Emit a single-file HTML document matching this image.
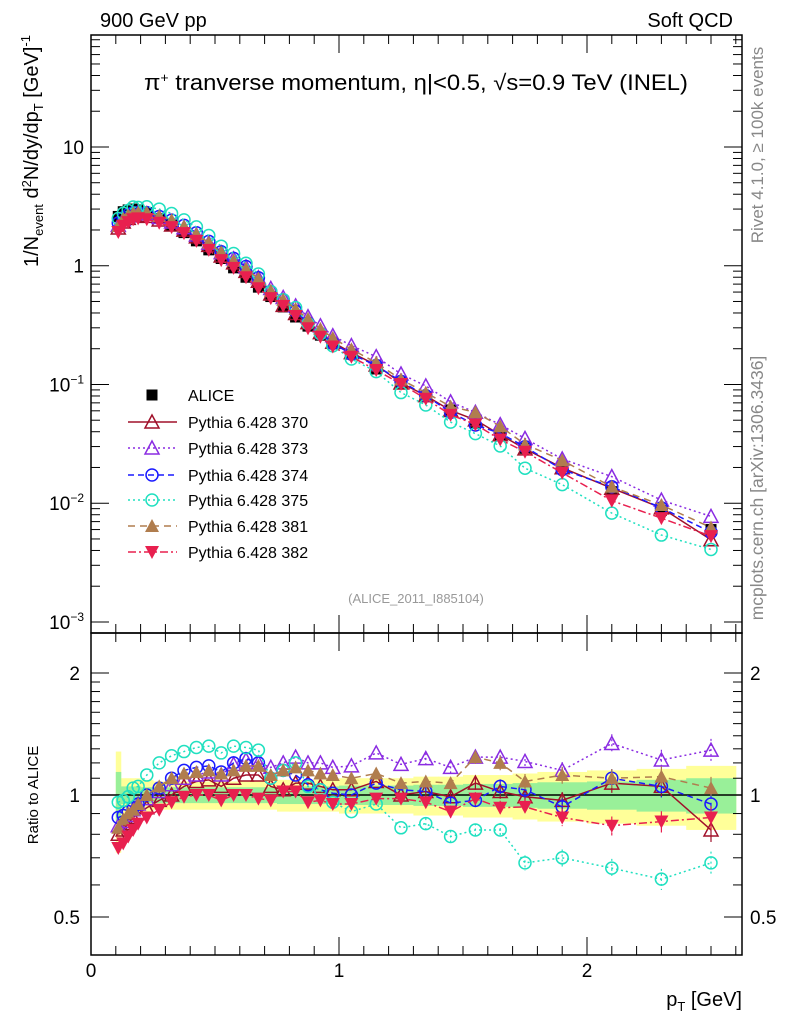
<!DOCTYPE html>
<html><head><meta charset="utf-8"><style>
body{margin:0;background:#fff;}
svg{display:block;font-family:"Liberation Sans",sans-serif;}
</style></head><body>
<svg id="c" width="786" height="1024" viewBox="0 0 786 1024"></svg>
<script>
const pT=[0.11,0.13,0.15,0.17,0.19,0.225,0.275,0.325,0.375,0.425,0.475,0.525,0.575,0.625,0.675,0.725,0.775,0.825,0.875,0.925,0.975,1.05,1.15,1.25,1.35,1.45,1.55,1.65,1.75,1.9,2.1,2.3,2.5];
const binLo=[0.1,0.12,0.14,0.16,0.18,0.2,0.25,0.3,0.35,0.4,0.45,0.5,0.55,0.6,0.65,0.7,0.75,0.8,0.85,0.9,0.95,1.0,1.1,1.2,1.3,1.4,1.5,1.6,1.7,1.8,2.0,2.2,2.4];
const binHi=[0.12,0.14,0.16,0.18,0.2,0.25,0.3,0.35,0.4,0.45,0.5,0.55,0.6,0.65,0.7,0.75,0.8,0.85,0.9,0.95,1.0,1.1,1.2,1.3,1.4,1.5,1.6,1.7,1.8,2.0,2.2,2.4,2.6];
const alice=[2.6,2.85,2.95,3.0,2.95,2.8,2.5,2.2,1.9,1.62,1.36,1.15,0.96,0.8,0.66,0.55,0.45,0.37,0.31,0.26,0.22,0.18,0.135,0.103,0.079,0.061,0.047,0.037,0.029,0.0205,0.0125,0.0087,0.0060];
const bandYellow=[0.28,0.1,0.1,0.1,0.1,0.09,0.08,0.08,0.08,0.08,0.08,0.08,0.08,0.08,0.08,0.08,0.09,0.09,0.09,0.09,0.09,0.1,0.1,0.1,0.11,0.11,0.12,0.12,0.13,0.14,0.15,0.16,0.18];
const bandGreen=[0.14,0.05,0.05,0.05,0.05,0.045,0.045,0.045,0.045,0.045,0.045,0.045,0.045,0.045,0.045,0.045,0.05,0.05,0.05,0.05,0.05,0.055,0.055,0.055,0.06,0.06,0.065,0.065,0.07,0.075,0.08,0.09,0.1];
const r370=[0.8,0.82,0.85,0.88,0.9,0.93,0.97,1.0,1.05,1.08,1.09,1.05,1.1,1.12,1.12,1.05,1.03,1.07,1.07,1.05,1.03,1.03,1.08,1.0,1.02,0.99,1.07,1.02,0.99,0.97,1.07,1.05,0.82];
const r373=[0.84,0.86,0.89,0.92,0.95,0.98,1.02,1.06,1.1,1.12,1.14,1.12,1.19,1.22,1.2,1.17,1.2,1.24,1.2,1.2,1.17,1.18,1.27,1.19,1.23,1.17,1.24,1.24,1.21,1.15,1.34,1.22,1.29];
const r374=[0.88,0.89,0.91,0.93,0.95,1.0,1.04,1.1,1.15,1.17,1.18,1.14,1.2,1.23,1.2,1.1,1.15,1.12,1.06,1.03,1.01,1.0,1.07,1.03,1.02,0.955,0.97,1.05,1.03,0.935,1.1,1.05,0.95];
const r375=[0.96,0.97,0.99,1.04,1.05,1.12,1.2,1.25,1.28,1.31,1.32,1.27,1.32,1.31,1.29,1.1,1.15,1.2,1.05,1.03,0.96,0.91,0.95,0.83,0.85,0.79,0.82,0.82,0.68,0.7,0.66,0.62,0.68];
const r381=[0.83,0.87,0.9,0.92,0.95,1.0,1.05,1.1,1.13,1.14,1.15,1.13,1.15,1.18,1.18,1.12,1.15,1.17,1.15,1.13,1.12,1.1,1.13,1.07,1.08,1.07,1.24,1.2,1.08,1.12,1.1,1.11,1.04];
const r382=[0.74,0.76,0.79,0.82,0.85,0.88,0.92,0.96,0.99,1.0,1.0,0.97,1.0,1.0,0.98,0.97,1.02,1.02,0.96,0.97,0.95,0.95,0.98,0.98,0.96,0.91,0.98,0.93,0.935,0.88,0.84,0.86,0.88];
const xTicks=[0,1,2];
const yTickPow=[-3,-2,-1,0,1];
const ratioTicks=[0.5,1,2];

const NS="http://www.w3.org/2000/svg";
const svg=document.getElementById('c');
const X0=91,X1=742,MT=35,MB=633,RB=955;
const sx=v=>X0+v*248;
const LTOP=1.943,LBOT=-3.093;
const sy=v=>MT+(LTOP-Math.log10(v))*(MB-MT)/(LTOP-LBOT);
const RTOP=Math.log10(2.51),RBOT=Math.log10(0.403);
const ry=v=>MB+(RTOP-Math.log10(v))*(RB-MB)/(RTOP-RBOT);
function el(t,a,p){const e=document.createElementNS(NS,t);for(const k in a)e.setAttribute(k,a[k]);(p||svg).appendChild(e);return e;}
function txt(x,y,s,a,p){const e=el('text',Object.assign({x:x,y:y},a||{}),p);e.innerHTML=s;return e;}

const gb=el('g',{});


for(let i=0;i<pT.length;i++){
  const r=el('rect',{x:sx(binLo[i]),width:sx(binHi[i])-sx(binLo[i])+0.5,y:ry(1+bandYellow[i]),height:ry(1-bandYellow[i])-ry(1+bandYellow[i]),fill:'#ffff99'},gb);
  
  
}
for(let i=0;i<pT.length;i++){
  const r=el('rect',{x:sx(binLo[i]),width:sx(binHi[i])-sx(binLo[i])+0.5,y:ry(1+bandGreen[i]),height:ry(1-bandGreen[i])-ry(1+bandGreen[i]),fill:'#99f099'},gb);
  
  
}
const one=el('line',{x1:X0,x2:X1,y1:ry(1),y2:ry(1),stroke:'#000','stroke-width':1.5});



const f1=el('rect',{x:X0,y:MT,width:X1-X0,height:MB-MT,fill:'none',stroke:'#000','stroke-width':1.5});


const f2=el('rect',{x:X0,y:MB,width:X1-X0,height:RB-MB,fill:'none',stroke:'#000','stroke-width':1.5});



const tg=el('g',{stroke:'#000','stroke-width':1});


for(let k=0;k<=26;k++){
  const x=sx(k/10), maj=(k%10===0), L=maj?18:9;
  [[MT,1],[MB,-1],[MB,1],[RB,-1]].forEach(([y,d])=>el('line',{x1:x,x2:x,y1:y,y2:y+d*L},tg));
}
for(let p=-3;p<=1;p++){
  for(let m=1;m<=9;m++){
    const v=m*Math.pow(10,p); const y=sy(v); if(y<MT||y>MB)continue;
    const L=m===1?18:9;
    el('line',{x1:X0,x2:X0+L,y1:y,y2:y},tg);el('line',{x1:X1,x2:X1-L,y1:y,y2:y},tg);
  }
}
[0.5,0.6,0.7,0.8,0.9,1,1.1,1.2,1.3,1.4,1.5,1.6,1.7,1.8,1.9,2].forEach(v=>{
  const y=ry(v),L=(v===0.5||v===1||v===2)?18:9;
  el('line',{x1:X0,x2:X0+L,y1:y,y2:y},tg);el('line',{x1:X1,x2:X1-L,y1:y,y2:y},tg);
});

yTickPow.forEach((p,i)=>{
  const y=sy(Math.pow(10,p));
  let s;
  if(p===0)s='1';else if(p===1)s='10';else s='10<tspan font-size="12" dy="-8">\u2212'+(-p)+'</tspan>';
  const t=txt(84,y+7,s,{'font-size':19,'text-anchor':'end'});
  
  
});
ratioTicks.forEach(v=>{
  const y=ry(v);
  const t1=txt(80,y+7,String(v),{'font-size':19,'text-anchor':'end'});
  
  
  const t2=txt(750,y+7,String(v),{'font-size':19,'text-anchor':'start'});
  
  
});
xTicks.forEach(v=>{
  const t=txt(sx(v),977,String(v),{'font-size':19,'text-anchor':'middle'});
  
  
});

const series=[
 {n:'pythia-370',r:r370,c:'#a0102a',dash:'',m:'otri'},
 {n:'pythia-373',r:r373,c:'#8a2be2',dash:'2,3',m:'otri'},
 {n:'pythia-374',r:r374,c:'#1a1aff',dash:'6,4',m:'ocirc'},
 {n:'pythia-375',r:r375,c:'#20e0c0',dash:'2,3',m:'ocirc'},
 {n:'pythia-381',r:r381,c:'#b07d4e',dash:'7,5',m:'ftri'},
 {n:'pythia-382',r:r382,c:'#e8204f',dash:'8,3,2,3',m:'dtri'}
];
function marker(m,x,y,c,p){
  if(m==='otri')return el('path',{d:`M${x},${y-7}L${x+7},${y+6}L${x-7},${y+6}Z`,fill:'none',stroke:c,'stroke-width':1.5},p);
  if(m==='ftri')return el('path',{d:`M${x},${y-7}L${x+7},${y+6}L${x-7},${y+6}Z`,fill:c},p);
  if(m==='dtri')return el('path',{d:`M${x},${y+7}L${x+7},${y-6}L${x-7},${y-6}Z`,fill:c},p);
  if(m==='ocirc')return el('circle',{cx:x,cy:y,r:6,fill:'none',stroke:c,'stroke-width':1.5},p);
  if(m==='sq')return el('rect',{x:x-5.5,y:y-5.5,width:11,height:11,fill:c},p);
}
const ag=el('g',{});


alice.forEach((v,i)=>{
  const mk=marker('sq',sx(pT[i]),sy(v),'#000',ag);
  
  
});
series.forEach(s=>{
  const g=el('g',{});
  
  
  const pts=pT.map((x,i)=>sx(x)+','+sy(alice[i]*s.r[i])).join(' ');
  el('polyline',{points:pts,fill:'none',stroke:s.c,'stroke-width':1.5,'stroke-dasharray':s.dash},g);
  pT.forEach((x,i)=>{
    const mk=marker(s.m,sx(x),sy(alice[i]*s.r[i]),s.c,g);
    
    
  });
  const g2=el('g',{});
  
  
  const pts2=pT.map((x,i)=>sx(x)+','+ry(s.r[i])).join(' ');
  el('polyline',{points:pts2,fill:'none',stroke:s.c,'stroke-width':1.5,'stroke-dasharray':s.dash},g2);
  pT.forEach((x,i)=>{
    if(x>1.3){const e=0.03+(x-1.3)*0.03;
      el('line',{x1:sx(x),x2:sx(x),y1:ry(s.r[i]*(1+e)),y2:ry(s.r[i]*(1-e)),stroke:s.c,'stroke-width':1.2,'stroke-dasharray':s.dash},g2);}
    const mk=marker(s.m,sx(x),ry(s.r[i]),s.c,g2);
    
    
  });
});

const lg=el('g',{});


const legY=[395,422,448,475,500,526,552];
const labs=['ALICE','Pythia 6.428 370','Pythia 6.428 373','Pythia 6.428 374','Pythia 6.428 375','Pythia 6.428 381','Pythia 6.428 382'];
labs.forEach((l,i)=>{
  const y=legY[i];
  const e=el('g',{},lg);
  
  
  if(i===0)marker('sq',152,y,'#000',e);
  else{const s=series[i-1];
    el('line',{x1:128,x2:177,y1:y,y2:y,stroke:s.c,'stroke-width':1.5,'stroke-dasharray':s.dash},e);
    marker(s.m,152,y,s.c,e);}
  txt(188,y+6,l,{'font-size':16},e);
});

let t;
t=txt(100,27,'900 GeV pp',{'font-size':20});
t=txt(733,27,'Soft QCD',{'font-size':20,'text-anchor':'end'});
t=txt(416,90,'\u03C0<tspan font-size="13" dy="-8">+</tspan><tspan dy="8"> tranverse momentum, \u03B7|&lt;0.5, \u221As=0.9 TeV (INEL)</tspan>',{'font-size':22,'text-anchor':'middle',textLength:544,lengthAdjust:'spacingAndGlyphs'});

t=txt(416,603,'(ALICE_2011_I885104)',{'font-size':13,'text-anchor':'middle',fill:'#999'});
t=txt(0,0,'1/N<tspan font-size="13" dy="5">event</tspan><tspan dy="-5"> d</tspan><tspan font-size="13" dy="-7">2</tspan><tspan dy="7">N/dy/dp</tspan><tspan font-size="13" dy="5">T</tspan><tspan dy="-5"> [GeV]</tspan><tspan font-size="13" dy="-8">-1</tspan>',{'font-size':20,'text-anchor':'end',transform:'translate(38,35) rotate(-90)'});

t=txt(0,0,'Ratio to ALICE',{'font-size':15,'text-anchor':'middle',transform:'translate(38,795) rotate(-90)'});

t=txt(742,1006,'p<tspan font-size="13" dy="5">T</tspan><tspan dy="-5"> [GeV]</tspan>',{'font-size':20,'text-anchor':'end'});

t=txt(0,0,'Rivet 4.1.0, \u2265 100k events',{'font-size':17,fill:'#888','text-anchor':'middle',transform:'translate(763,145) rotate(-90)'});

t=txt(0,0,'mcplots.cern.ch [arXiv:1306.3436]',{'font-size':17.5,fill:'#888','text-anchor':'middle',transform:'translate(763,488) rotate(-90)'});

</script>
</body></html>
